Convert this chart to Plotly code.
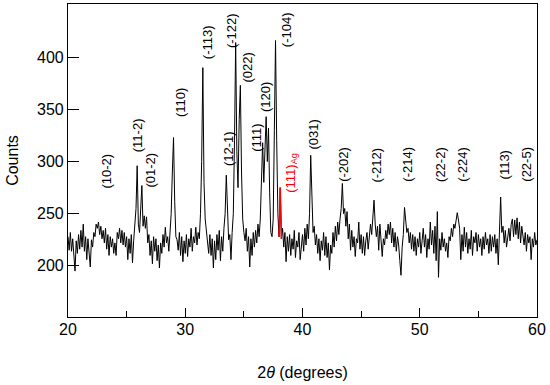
import numpy as np
import plotly.graph_objects as go

# 2-theta grid (degrees), 0.1 step
two_theta = np.round(np.arange(20.0, 60.0001, 0.1), 2)

counts = [
    # 20.0-20.9
    228, 215, 232, 214, 226, 208, 195, 224, 212, 230,
    # 21
    216, 234, 218, 240, 214, 228, 206, 226, 212, 199,
    # 22
    225, 218, 232, 228, 240, 236, 242, 230, 238, 226,
    # 23
    234, 222, 236, 216, 230, 210, 228, 218, 226, 212,
    # 24
    222, 210, 232, 226, 236, 222, 234, 220, 232, 218,
    # 25
    228, 206, 226, 212, 230, 203, 224, 236, 255, 296,
    # 26
    240, 232, 250, 277, 238, 248, 236, 247, 222, 230,
    # 27
    210, 224, 202, 228, 214, 226, 205, 220, 198, 222,
    # 28
    212, 230, 218, 237, 222, 228, 214, 232, 250, 290,
    # 29
    323, 262, 228, 225, 215, 232, 210, 228, 204, 224,
    # 30
    212, 230, 209, 226, 218, 236, 214, 228, 222, 237,
    # 31
    220, 232, 226, 250, 300, 390, 280, 245, 232, 226,
    # 32
    212, 230, 210, 226, 198, 224, 206, 230, 215, 234,
    # 33
    205, 228, 214, 236, 250, 287, 245, 225, 230, 206,
    # 34
    232, 250, 320, 414, 310, 275, 340, 373, 290, 245,
    # 35
    232, 224, 236, 214, 228, 199, 226, 210, 232, 218,
    # 36
    234, 222, 240, 228, 245, 285, 318, 280, 320, 343,
    # 37
    300, 332, 270, 232, 228, 245, 330, 416, 320, 250,
    # 38
    228, 275, 226, 236, 218, 232, 204, 228, 214, 230,
    # 39
    210, 226, 216, 234, 208, 224, 218, 232, 206, 222,
    # 40
    230, 214, 236, 220, 240, 226, 250, 306, 255, 232,
    # 41
    238, 220, 230, 212, 226, 205, 224, 215, 232, 210,
    # 42
    228, 208, 222, 196, 220, 212, 232, 218, 238, 224,
    # 43
    242, 230, 245, 255, 279, 250, 255, 238, 252, 226,
    # 44
    240, 215, 234, 218, 228, 209, 226, 222, 242, 216,
    # 45
    230, 212, 228, 210, 224, 232, 216, 226, 240, 230,
    # 46
    245, 263, 240, 228, 238, 215, 240, 222, 209, 226,
    # 47
    220, 234, 226, 240, 230, 242, 222, 236, 218, 232,
    # 48
    214, 228, 220, 205, 191, 218, 230, 256, 240, 232,
    # 49
    236, 222, 232, 216, 230, 214, 228, 210, 226, 218,
    # 50
    232, 212, 224, 236, 218, 230, 208, 226, 216, 242,
    # 51
    220, 234, 212, 238, 205, 252, 189, 226, 215, 232,
    # 52
    218, 226, 214, 222, 208, 228, 224, 236, 228, 240,
    # 53
    236, 246, 251, 244, 236, 206, 230, 214, 237, 218,
    # 54
    232, 212, 226, 216, 234, 210, 228, 222, 232, 214,
    # 55
    230, 218, 226, 210, 228, 216, 232, 220, 226, 212,
    # 56
    230, 214, 228, 218, 230, 212, 226, 201, 230, 266,
    # 57
    232, 238, 222, 234, 218, 228, 236, 224, 240, 245,
    # 58
    228, 244, 230, 246, 226, 242, 222, 238, 230, 220,
    # 59
    232, 214, 230, 222, 228, 206, 226, 218, 232, 220,
    # 60
    225,
]

# Ag (111) reflection segment, highlighted in red
ag_range = (38.0, 38.2)

# Miller-index labels: text, x (deg), y (counts)
peak_labels = ["(10-2)", "(11-2)", "(01-2)", "(110)", "(-113)", "(12-1)", "(-122)",
               "(022)", "(111)", "(120)", "(-104)", "(031)", "(-202)", "(-212)",
               "(-214)", "(22-2)", "(-224)", "(113)", "(22-5)"]
label_x = [23.3, 25.95, 27.05, 29.55, 31.9, 33.65, 33.9, 35.35, 36.05, 36.9, 38.6,
           40.9, 43.55, 46.35, 49.0, 51.75, 53.7, 57.25, 59.15]
label_y = [291, 325, 292, 357, 414, 312, 426, 390, 323, 362, 426, 326, 297, 297,
           297, 297, 297, 297, 297]

ag_label = "(111)<sub>Ag</sub>"
ag_label_x = 39.0
ag_label_y = 289

fig = go.Figure()
fig.add_trace(go.Scatter(x=two_theta, y=counts, mode="lines",
                         line=dict(color="black", width=1), showlegend=False))

mask = (two_theta >= ag_range[0] - 1e-9) & (two_theta <= ag_range[1] + 1e-9)
fig.add_trace(go.Scatter(x=two_theta[mask], y=np.array(counts)[mask], mode="lines",
                         line=dict(color="red", width=1.5), showlegend=False))

fam = "Arial, Liberation Sans, sans-serif"
font = dict(family=fam, size=13, color="black")

for t, xv, yv in zip(peak_labels, label_x, label_y):
    fig.add_annotation(x=xv, y=yv, text=t, showarrow=False, textangle=-90,
                       xanchor="center", yanchor="middle", font=font)
fig.add_annotation(x=ag_label_x, y=ag_label_y, text=ag_label, showarrow=False,
                   textangle=-90, xanchor="center", yanchor="middle",
                   font=dict(family=fam, size=13, color="red"))

axis_common = dict(showline=True, linecolor="black", linewidth=1.2, mirror=True,
                   ticks="inside", tickcolor="black", showgrid=False, zeroline=False,
                   automargin=False,
                   tickfont=dict(family=fam, size=16, color="black"))

fig.update_xaxes(range=[20, 60], tickvals=[20, 30, 40, 50, 60], ticklen=9,
                 ticklabelstandoff=-2,
                 minor=dict(tickvals=[25, 35, 45, 55], ticks="inside", ticklen=6,
                            tickcolor="black"),
                 title=dict(text="2<i>θ</i> (degrees)",
                            font=dict(family=fam, size=16, color="black"),
                            standoff=29),
                 **axis_common)
fig.update_yaxes(range=[151, 451], tickvals=[200, 250, 300, 350, 400], ticklen=11,
                 ticklabelstandoff=0,
                 title=dict(text="Counts",
                            font=dict(family=fam, size=16, color="black"),
                            standoff=14),
                 **axis_common)

fig.update_layout(width=550, height=385, margin=dict(l=68, r=13, t=4, b=68),
                  plot_bgcolor="white", paper_bgcolor="white")

fig.write_html("out.html", config={"displayModeBar": False},
               post_script="document.body.style.margin='0';document.body.style.padding='0';")
